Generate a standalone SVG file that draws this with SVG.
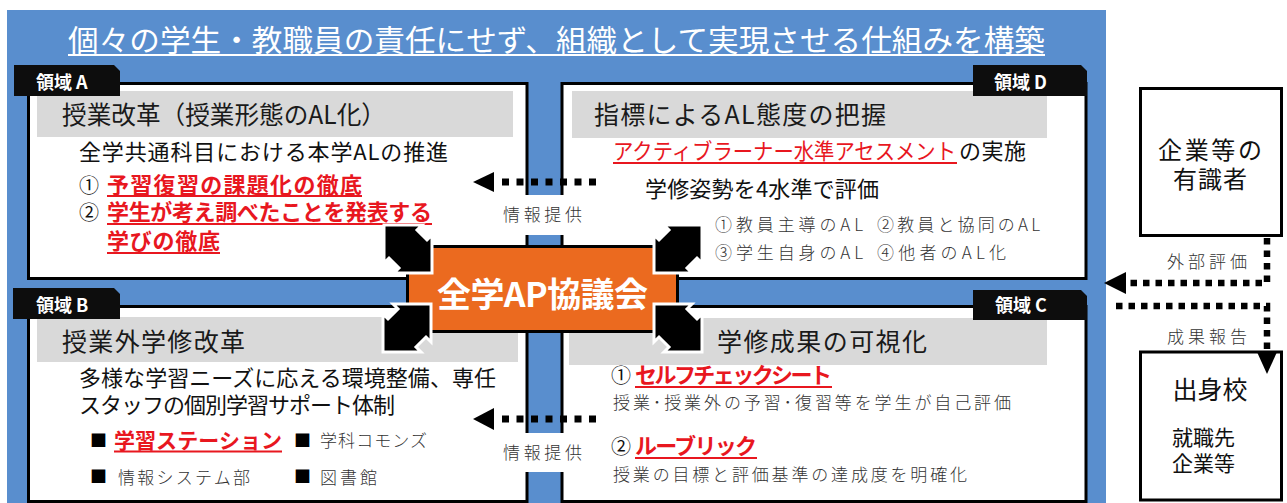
<svg xmlns="http://www.w3.org/2000/svg" width="1287" height="503" viewBox="0 0 1287 503">
<style>
.t{font-family:"Noto Sans CJK JP","Noto Sans",sans-serif;}
.box{fill:#fff;stroke:#000;stroke-width:3;}
.hdr{fill:#D9D9D9;}
.hd{font-size:25px;fill:#1a1a1a;}
.b{font-size:22px;fill:#111;}
.n{font-size:20px;fill:#111;}
.red{fill:#E8171F;font-weight:bold;}
.redn{fill:#E8171F;}
.thin{font-size:17px;fill:#333;font-weight:300;}
.tab{fill:#0d0d0d;}
.tabt{font-size:18px;fill:#fff;font-weight:bold;}
.ul{stroke:#E8171F;stroke-width:1.8;}
.dot{fill:none;stroke:#000;stroke-width:7;stroke-dasharray:7 7.5;}
.dot2{fill:none;stroke:#000;stroke-width:6.5;stroke-dasharray:6.5 6;}
.icon{fill:#000;stroke:#fff;stroke-width:3;stroke-linejoin:miter;}
</style>
<defs>
<polygon id="dbl" points="0,0 38,0 33,5 43,15 48,10 48,48 10,48 15,43 5,33 0,38"/>
</defs>
<rect x="7" y="10" width="1099" height="493" fill="#598ECE"/>
<g id="title">
<text class="t" x="68" y="51" font-size="30" fill="#fff" textLength="977" lengthAdjust="spacingAndGlyphs">個々の学生・教職員の責任にせず、組織として実現させる仕組みを構築</text>
<line x1="68" y1="55" x2="1045" y2="55" stroke="#fff" stroke-width="2"/>
</g>
<g id="regionA">
<rect class="box" x="28.5" y="83.5" width="498.5" height="195"/>
<rect class="hdr" x="37" y="91" width="476" height="46"/>
<polygon class="tab" points="14,65 114,65 120,71 120,96 14,96"/>
<text class="t tabt" x="36" y="88.5">領域 A</text>
<text class="t hd" x="62" y="124" textLength="324" lengthAdjust="spacingAndGlyphs">授業改革（授業形態のAL化）</text>
<text class="t b" x="79" y="160" textLength="369">全学共通科目における本学ALの推進</text>
<text class="t n" x="79" y="192.5">①</text>
<text class="t b red" x="107" y="192.5" textLength="255">予習復習の課題化の徹底</text>
<line class="ul" x1="107" y1="196" x2="362" y2="196"/>
<text class="t n" x="79" y="220">②</text>
<text class="t b red" x="107" y="220" textLength="325">学生が考え調べたことを発表する</text>
<line class="ul" x1="107" y1="224" x2="432" y2="224"/>
<text class="t b red" x="107" y="249" textLength="113">学びの徹底</text>
<line class="ul" x1="107" y1="253" x2="220" y2="253"/>
</g>
<g id="regionD">
<rect class="box" x="562" y="83.5" width="524" height="195"/>
<rect class="hdr" x="572" y="91" width="475" height="47"/>
<polygon class="tab" points="973,65 1081,65 1087,71 1087,96 973,96"/>
<text class="t tabt" x="994" y="88.5">領域 D</text>
<text class="t hd" x="594" y="124" textLength="292">指標によるAL態度の把握</text>
<text class="t b redn" x="613" y="159" font-size="21" textLength="343" lengthAdjust="spacingAndGlyphs">アクティブラーナー水準アセスメント</text>
<line class="ul" x1="613" y1="163" x2="957" y2="163"/>
<text class="t b" x="959" y="159" textLength="67">の実施</text>
<text class="t b" x="645" y="197" textLength="234">学修姿勢を4水準で評価</text>
<text class="t thin" x="715" y="230.5" font-size="18" textLength="148">①教員主導のAL</text>
<text class="t thin" x="877" y="230.5" font-size="18" textLength="163">②教員と協同のAL</text>
<text class="t thin" x="715" y="258.5" font-size="18" textLength="148">③学生自身のAL</text>
<text class="t thin" x="877" y="258.5" font-size="18" textLength="129">④他者のAL化</text>
</g>
<g id="regionB">
<rect class="box" x="28.5" y="306.5" width="498.5" height="195"/>
<rect class="hdr" x="37" y="317" width="481" height="45"/>
<polygon class="tab" points="13,288 114,288 120,294 120,319 13,319"/>
<text class="t tabt" x="36" y="311.5">領域 B</text>
<text class="t hd" x="62" y="351" textLength="183">授業外学修改革</text>
<text class="t b" x="79" y="385.5" textLength="417">多様な学習ニーズに応える環境整備、専任</text>
<text class="t b" x="79" y="413" textLength="316">スタッフの個別学習サポート体制</text>
<text class="t" x="90" y="447" font-size="17" fill="#000">■</text>
<text class="t red" x="114" y="448" font-size="21" textLength="168">学習ステーション</text>
<line class="ul" x1="114" y1="451.5" x2="282" y2="451.5"/>
<text class="t" x="294" y="447" font-size="17" fill="#000">■</text>
<text class="t thin" x="320" y="447" font-size="18" textLength="107">学科コモンズ</text>
<text class="t" x="90" y="483" font-size="17" fill="#000">■</text>
<text class="t thin" x="118" y="484" font-size="18" textLength="132">情報システム部</text>
<text class="t" x="294" y="483" font-size="17" fill="#000">■</text>
<text class="t thin" x="320" y="484" font-size="18" textLength="57">図書館</text>
</g>
<g id="regionC">
<rect class="box" x="562" y="306.5" width="524" height="195"/>
<rect class="hdr" x="569" y="318" width="478" height="47"/>
<polygon class="tab" points="973,290 1081,290 1087,296 1087,320 973,320"/>
<text class="t tabt" x="995" y="311.5">領域 C</text>
<text class="t hd" x="717" y="351" textLength="210">学修成果の可視化</text>
<text class="t n" x="611" y="383">①</text>
<text class="t b red" x="635" y="383" font-size="21" textLength="197">セルフチェックシート</text>
<line class="ul" x1="635" y1="387" x2="832" y2="387"/>
<text class="t thin" x="613" y="409" textLength="398">授業･授業外の予習･復習等を学生が自己評価</text>
<text class="t n" x="611" y="454">②</text>
<text class="t b red" x="635" y="454" font-size="21" textLength="122">ルーブリック</text>
<line class="ul" x1="635" y1="458" x2="757" y2="458"/>
<text class="t thin" x="613" y="481" textLength="354">授業の目標と評価基準の達成度を明確化</text>
</g>
<g id="experts">
<rect class="box" x="1140.5" y="88.5" width="141" height="147"/>
<text class="t" x="1210" y="159" font-size="24" fill="#111" text-anchor="middle" textLength="104">企業等の</text>
<text class="t" x="1210" y="188" font-size="24" fill="#111" text-anchor="middle" textLength="74">有識者</text>
</g>
<g id="schools">
<rect class="box" x="1140.5" y="352" width="141" height="148"/>
<text class="t" x="1210" y="399" font-size="25" fill="#111" text-anchor="middle">出身校</text>
<text class="t" x="1172" y="445" font-size="21" fill="#111">就職先</text>
<text class="t" x="1172" y="471" font-size="21" fill="#111">企業等</text>
</g>
<g id="connectors">
<rect x="522" y="195" width="46" height="40" fill="#fff"/>
<rect x="522" y="433" width="46" height="39" fill="#fff"/>
<path class="dot" d="M502,182 H597"/>
<polygon points="473,182 494,172 494,192" fill="#000"/>
<text class="t thin" x="503" y="221" textLength="79">情報提供</text>
<path class="dot" d="M502,419 H597"/>
<polygon points="473,419 494,408 494,430" fill="#000"/>
<text class="t thin" x="503" y="459" textLength="79">情報提供</text>
<path class="dot2" d="M1267,238 V283 H1128"/>
<polygon points="1104,283 1126,272 1126,294" fill="#000"/>
<text class="t thin" x="1167" y="268" font-size="16" textLength="80">外部評価</text>
<path class="dot2" d="M1116,306 H1267 V352"/>
<polygon points="1267,374 1257,352 1277,352" fill="#000"/>
<text class="t thin" x="1167" y="343" font-size="16" textLength="80">成果報告</text>
</g>
<g id="council">
<rect x="407.5" y="246.5" width="270" height="85" fill="#EB6A1F" stroke="#000" stroke-width="3"/>
<text class="t" x="542.5" y="307" font-size="34" font-weight="bold" fill="#fff" text-anchor="middle" textLength="211">全学AP協議会</text>
<use href="#dbl" class="icon" transform="translate(384,225)"/>
<use href="#dbl" class="icon" transform="translate(702,225) scale(-1,1)"/>
<use href="#dbl" class="icon" transform="translate(431,304) scale(-1,1)"/>
<use href="#dbl" class="icon" transform="translate(654,304)"/>
</g>
</svg>
